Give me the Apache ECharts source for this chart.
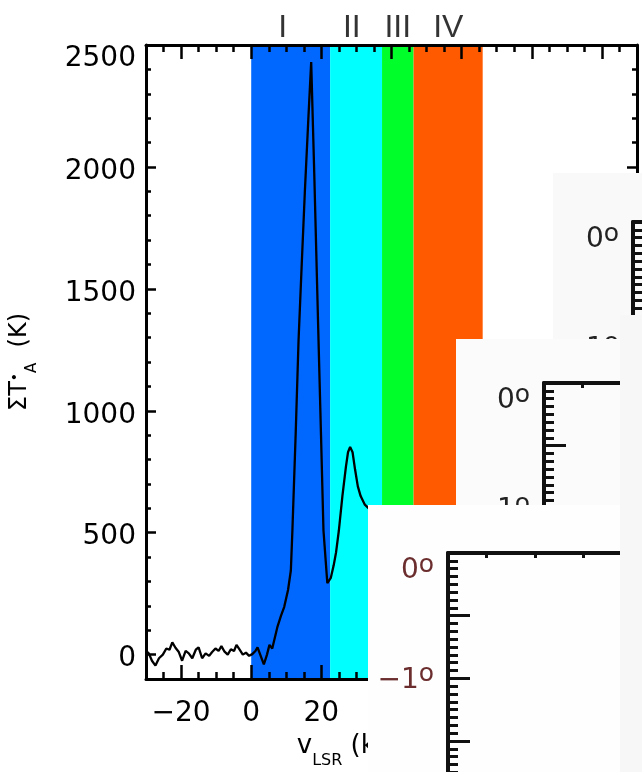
<!DOCTYPE html>
<html><head><meta charset="utf-8">
<script src="https://cdn.jsdelivr.net/npm/echarts@6/dist/echarts.min.js"></script>
<style>html,body{margin:0;padding:0;background:#fff}#c{width:642px;height:772px}</style>
</head><body><div id="c"></div>
<script>
// ---- data ----
const velocity = [-30,-29.2,-28.3,-27.3,-26.3,-25.2,-24.2,-23.3,-22.5,-21.6,-20.7,-19.7,-18.7,-17.8,-16.8,-15.8,-15.0,-14.0,-13.0,-12.0,-11.2,-10.2,-9.3,-8.5,-7.6,-6.7,-5.8,-4.9,-4.2,-3.3,-2.4,-1.5,-0.6,0.3,1.2,1.8,2.7,3.6,4.5,5.2,6.0,7.5,8.5,9.4,10.5,11.3,11.75,12.7,13.5,14.4,15.3,16.3,17.1,18.0,19.1,19.9,20.6,21.7,22.7,23.5,24.2,25.0,26.0,27.0,27.6,28.2,28.9,29.6,30.4,31.2,32.4,33.5,34.8,36.5,38.5,40.5,43,46,49,52,56,60,64,68,72,76,80,85,90,95,100,105,110];
const intensity = [15,5,-25,-45,-15,0,25,20,50,28,12,-25,15,5,-15,20,30,-15,5,-5,10,25,15,35,12,0,22,15,40,20,0,8,-5,2,15,30,-5,-40,0,40,25,115,160,195,265,345,511,915,1290,1600,1900,2200,2430,1960,1340,900,510,293,315,365,420,510,650,770,830,852,830,760,690,650,615,600,570,500,410,330,260,190,140,100,60,35,15,20,-10,15,5,-15,20,0,-10,10,5];
const regionNames = ['I','II','III','IV'];
const regionStart = [0, 22.5, 37.3, 46.3];
const regionEnd = [22.5, 37.3, 46.3, 66];
const regionColors = ['#0068ff','#00ffff','#00ff2a','#ff5a00'];
const numeralPos = [9, 28.7, 41.8, 56.2];
const xMajorTicks = [-20,0,20,40,60,80,100];
const yMajorTicks = [0,500,1000,1500,2000,2500];
const insetLonTicks = [0.8,1.8,2.8,3.8];
const insetLatLabels = [0,-1];

const FONT = 'DejaVu Sans';
const minus = v => String(v).replace('-', '\u2212');
const yMax = yMajorTicks[yMajorTicks.length - 1];

function mainX(pos, major, withLabel, extra) {
  return Object.assign({
    gridIndex: 0, type: 'value', min: -30, max: 110, position: pos, z: 5,
    axisLine: { show: major, onZero: false, lineStyle: { color: '#000', width: 3 } },
    axisTick: major ? { show: true, inside: true, length: 14, customValues: xMajorTicks, lineStyle: { color: '#000', width: 2.5 } }
                    : { show: true, inside: true, length: 7, lineStyle: { color: '#000', width: 2.5 } },
    axisLabel: withLabel ? { show: true, customValues: xMajorTicks, formatter: minus, fontFamily: FONT, fontSize: 28, color: '#000', margin: 21 } : { show: false },
    splitLine: { show: false }
  }, major ? {} : { interval: 5 }, extra || {});
}
function mainY(pos, major, withLabel, extra) {
  return Object.assign({
    gridIndex: 0, type: 'value', min: -100, max: 2500, position: pos, z: 5,
    axisLine: { show: major, onZero: false, lineStyle: { color: '#000', width: 3 } },
    axisTick: major ? { show: true, inside: true, length: 10, customValues: yMajorTicks, lineStyle: { color: '#000', width: 2.5 } }
                    : { show: true, inside: true, length: 5, lineStyle: { color: '#000', width: 2.5 } },
    axisLabel: withLabel ? { show: true, customValues: yMajorTicks,
      formatter: v => v === yMax ? '{t|' + v + '}' : '{m|' + v + '}',
      rich: { t: { fontFamily: FONT, fontSize: 28, color: '#000' },
              m: { fontFamily: FONT, fontSize: 28, color: '#000', padding: [9, 0, 0, 0] } },
      margin: 10, verticalAlignMaxLabel: 'top' } : { show: false },
    splitLine: { show: false }
  }, major ? {} : { interval: 100 }, extra || {});
}
function insetX(g, z) {
  return { gridIndex: g, type: 'value', min: 0, max: 4, position: 'top', z: z,
    axisLine: { show: true, onZero: false, lineStyle: { color: '#111', width: 4 } },
    axisTick: { show: true, inside: true, length: 5, customValues: insetLonTicks, lineStyle: { color: '#111', width: 3 } },
    axisLabel: { show: false }, splitLine: { show: false } };
}
function insetY(g, z, color) {
  return { gridIndex: g, type: 'value', min: -2, max: 0, interval: 0.5, position: 'left', z: z,
    axisLine: { show: true, onZero: false, lineStyle: { color: '#111', width: 4 } },
    axisTick: { show: true, inside: true, length: 22, lineStyle: { color: '#111', width: 3 } },
    minorTick: { show: true, splitNumber: 8, length: 10, lineStyle: { color: '#111', width: 3 } },
    splitLine: { show: false }, minorSplitLine: { show: false },
    axisLabel: { show: true, margin: 14, verticalAlignMaxLabel: 'top',
      formatter: v => insetLatLabels.indexOf(v) >= 0 ? '{d|' + minus(v) + '}{s|o}' : '',
      rich: { d: { fontFamily: FONT, fontSize: 28, lineHeight: 32, color: color, verticalAlign: 'bottom' },
              s: { fontFamily: FONT, fontSize: 25, lineHeight: 32, color: color, verticalAlign: 'top' } } } };
}

const xAxes = [
  mainX('bottom', true, true, {
    name: '{n|v}{sub|LSR}{n| (km s}{sup|\u22121}{n|)}', nameLocation: 'middle', nameGap: 52,
    nameTextStyle: { padding: [0, 31, 0, 0], rich: {
      n: { fontFamily: FONT, fontSize: 26, lineHeight: 36, color: '#000', verticalAlign: 'top' },
      sub: { fontFamily: FONT, fontSize: 16, lineHeight: 36, color: '#000', verticalAlign: 'bottom' },
      sup: { fontFamily: FONT, fontSize: 15, lineHeight: 36, color: '#000', verticalAlign: 'top' } } }
  }),
  mainX('bottom', false, false),
  mainX('top', true, false),
  mainX('top', false, false),
  insetX(1, 11), insetX(2, 21), insetX(3, 31)
];
const yAxes = [
  mainY('left', true, true, {
    name: '{n|\u03A3T}{sup|\u2022}{sub|A}{n|  (K)}', nameLocation: 'middle', nameRotate: 90, nameGap: 106,
    nameTextStyle: { rich: {
      n: { fontFamily: FONT, fontSize: 24, lineHeight: 32, color: '#000', verticalAlign: 'top' },
      sup: { fontFamily: FONT, fontSize: 14, lineHeight: 32, color: '#000', verticalAlign: 'top' },
      sub: { fontFamily: FONT, fontSize: 15, lineHeight: 32, color: '#000', verticalAlign: 'bottom' } } }
  }),
  mainY('left', false, false),
  mainY('right', true, false),
  mainY('right', false, false),
  insetY(1, 11, '#222'), insetY(2, 21, '#222'), insetY(3, 31, '#6b2d2d')
];

const option = {
  animation: false,
  backgroundColor: '#fff',
  grid: [
    { left: 146, top: 45, width: 491, height: 634, containLabel: false, outerBoundsMode: 'none' },
    { left: 633, top: 222, width: 193.2, height: 250.6, containLabel: false, outerBoundsMode: 'none' },
    { left: 544, top: 383, width: 193.2, height: 250.6, containLabel: false, outerBoundsMode: 'none' },
    { left: 448, top: 553, width: 193.2, height: 250.6, containLabel: false, outerBoundsMode: 'none' }
  ],
  xAxis: xAxes,
  yAxis: yAxes,
  graphic: { elements: [
    { type: 'rect', silent: true, z: 10, shape: { x: 553, y: 173, width: 89, height: 599 }, style: { fill: '#f9f9f9' } },
    { type: 'rect', silent: true, z: 20, shape: { x: 456, y: 339, width: 164, height: 433 }, style: { fill: '#fbfbfb' } },
    { type: 'rect', silent: true, z: 30, shape: { x: 368, y: 505, width: 252, height: 267 }, style: { fill: '#fefefe' } },
    { type: 'rect', silent: true, z: 40, shape: { x: 620, y: 315, width: 22, height: 457 }, style: { fill: '#f8f7f7' } }
  ] },
  series: [
    { type: 'line', xAxisIndex: 0, yAxisIndex: 0, data: [], z: 1,
      markArea: { silent: true, data: regionStart.map((s, i) => [
        { xAxis: s, itemStyle: { color: regionColors[i], opacity: 1, borderWidth: 0 } },
        { xAxis: regionEnd[i] } ]) } },
    { type: 'line', xAxisIndex: 0, yAxisIndex: 0, z: 3, symbol: 'none',
      lineStyle: { color: '#000', width: 2.3 },
      data: velocity.map((v, i) => [v, intensity[i]]) },
    { type: 'scatter', xAxisIndex: 0, yAxisIndex: 0, z: 6, symbolSize: 0, clip: false,
      data: numeralPos.map((v, i) => ({ value: [v, 2500], name: regionNames[i] })),
      label: { show: true, position: 'top', distance: 1, formatter: '{b}',
               fontFamily: 'Liberation Sans', fontSize: 32, color: '#000' } }
  ]
};
echarts.init(document.getElementById('c'), null, { renderer: 'canvas' }).setOption(option);
</script></body></html>
